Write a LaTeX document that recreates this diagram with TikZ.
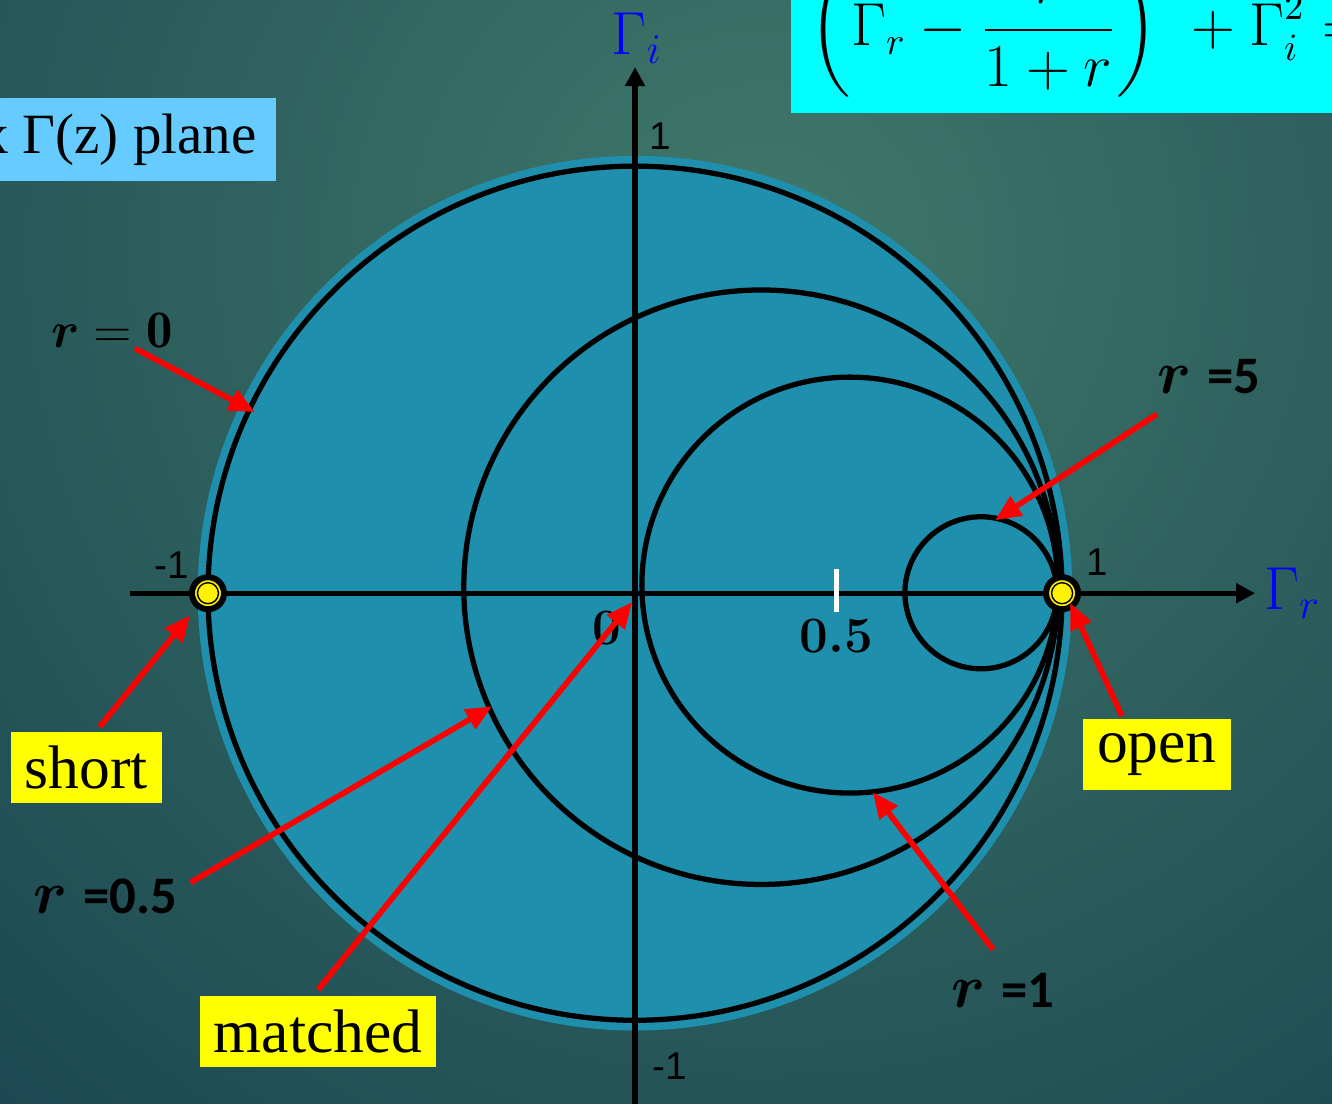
\documentclass[tikz,border=0pt]{standalone}
\usepackage{amsmath}
\usepackage{amssymb}
\usepackage{bm}
\usepackage{fontspec}
\newfontfamily\timesfont{Liberation Serif}
\newfontfamily\calibrifont{Carlito}
\newfontfamily\arialfont{Liberation Sans}
\usepackage{tikz}
\usetikzlibrary{arrows.meta, positioning}

\definecolor{bgdark}{RGB}{24,68,80}
\definecolor{bglight}{RGB}{64,120,106}
\definecolor{diskblue}{RGB}{30,144,173}
\definecolor{planeblue}{RGB}{102,204,255}
\definecolor{eqcyan}{RGB}{0,255,255}
\definecolor{tagyellow}{RGB}{255,255,0}

\begin{document}
\begin{tikzpicture}[x=4.27cm, y=4.27cm,
    rcircle/.style={draw=black, line width=1.5pt},
    axisline/.style={line width=1.5pt, -{Triangle[length=0.19cm, width=0.19cm]}},
    pointer/.style={draw=red, line width=1.6pt, -{Triangle[length=0.26cm, width=0.22cm]}},
    tagbox/.style={fill=tagyellow, inner xsep=0.14cm, minimum height=0.71cm, font=\fontsize{17.5}{20}\timesfont},
    rlabel/.style={inner sep=0pt, font=\fontsize{15}{18}\selectfont},
    ticknum/.style={font=\fontsize{11}{13}\arialfont},
    numlabel/.style={font=\fontsize{14.5}{17}\bfseries},
    gammalabel/.style={text=blue, font=\fontsize{18.5}{20}\selectfont},
    termdot/.style={circle, fill=yellow, draw=black, line width=1.7pt, minimum size=0.32cm, inner sep=0pt,
        path picture={\draw[line width=0.4pt] (path picture bounding box.center) circle (0.105cm);}}]

    % Background
    \useasboundingbox (-1.487,-1.194) rectangle (1.632,1.389);
    \clip (-1.487,-1.194) rectangle (1.632,1.389);
    \shade[inner color=bglight, outer color=bgdark] (0.3,0.8) circle (2.9);

    % Gamma plane disk and constant-r circles
    \fill[diskblue] (0,0) circle (1.024);
    \draw[rcircle] (0,0) circle (1);             % r = 0
    \draw[rcircle] (0.295,0.014) circle (0.696); % r = 0.5
    \draw[rcircle] (0.503,0.019) circle (0.487); % r = 1
    \draw[rcircle] (0.810,0.001) circle (0.178); % r = 5

    % Axes
    \coordinate (xfrom) at (-1.183,0);
    \coordinate (xto) at (1.452,0);
    \coordinate (yfrom) at (0,-1.30);
    \coordinate (yto) at (0,1.232);
    \draw[axisline] (xfrom) -- (xto);
    \draw[axisline] (yfrom) -- (yto);
    \node[gammalabel] (gammar) at (1.539,0) {$\Gamma_r$};
    \node[gammalabel] (gammai) at (0.005,1.30) {$\Gamma_i$};

    % Tick at 0.5
    \coordinate (tickup) at (0.471,0.056);
    \coordinate (tickdown) at (0.471,-0.044);
    \draw[white, line width=1.5pt] (tickup) -- (tickdown);

    % Axis numbers
    \node[ticknum] (leftone) at (-1.084,0.066) {-1};
    \node[ticknum] (rightone) at (1.082,0.073) {1};
    \node[ticknum] (topone) at (0.059,1.070) {1};
    \node[ticknum] (bottomone) at (0.082,-1.108) {-1};
    \node[numlabel] (zero) at (-0.066,-0.082) {0};
    \node[numlabel] (half) at (0.471,-0.101) {0.5};

    % Short and open points
    \node[termdot] (shortpt) at (-1,0) {};
    \node[termdot] (openpt) at (1,0) {};

    % Boxes at the top
    \node[fill=eqcyan, anchor=south west, inner xsep=0.19cm, inner ysep=0.16cm, font=\fontsize{16}{18}\selectfont]
        (circeq) at (0.363,1.122)
        {$\displaystyle \left(\Gamma_r-\frac{r}{1+r}\right)^{2}+\Gamma_i^{2}=\left(\frac{1}{1+r}\right)^{2}$};
    \node[fill=planeblue, anchor=east, inner xsep=0.2cm, minimum height=0.83cm, font=\fontsize{16.2}{19}\timesfont]
        (plane) at (-0.838,1.062) {Complex Γ(z) plane};

    % r labels
    \node[rlabel] (rzero) at (-1.225,0.616) {$\boldsymbol{r}=\mathbf{0}$};
    \node[rlabel] (rfive) at (1.344,0.508) {{\fontsize{17}{18}\selectfont$\boldsymbol{r}$} {\calibrifont\bfseries =5}};
    \node[rlabel] (rhalf) at (-1.241,-0.710) {{\fontsize{17}{18}\selectfont$\boldsymbol{r}$} {\calibrifont\bfseries =0.5}};
    \node[rlabel] (rone) at (0.862,-0.930) {{\fontsize{17}{18}\selectfont$\boldsymbol{r}$} {\calibrifont\bfseries =1}};

    % Yellow tags
    \node[tagbox] (short) at (-1.285,-0.409) {short};
    \node[tagbox] (open) at (1.222,-0.377) {open};
    \node[tagbox] (matched) at (-0.742,-1.027) {matched};

    % Arrow targets
    \coordinate (onrzero) at (-0.890,0.424);
    \coordinate (onrfive) at (0.843,0.171);
    \coordinate (onshort) at (-1.042,-0.052);
    \coordinate (onrhalf) at (-0.335,-0.265);
    \coordinate (onorigin) at (-0.007,-0.021);
    \coordinate (onrone) at (0.557,-0.466);
    \coordinate (onopen) at (1.019,-0.023);

    % Red arrows
    \draw[pointer] ([xshift=0.23cm]rzero.south) -- (onrzero);
    \draw[pointer] ([yshift=-0.2cm]rfive.south west) -- (onrfive);
    \draw[pointer] ([shift={(0.135cm,0.05cm)}]short.north) -- (onshort);
    \draw[pointer] ([shift={(0.13cm,0.14cm)}]rhalf.east) -- (onrhalf);
    \draw[pointer] ([yshift=0.06cm]matched.north) -- (onorigin);
    \draw[pointer] ([shift={(-0.1cm,0.23cm)}]rone.north) -- (onrone);
    \draw[pointer] ([shift={(-0.35cm,0.02cm)}]open.north) -- (onopen);

\end{tikzpicture}
\end{document}
